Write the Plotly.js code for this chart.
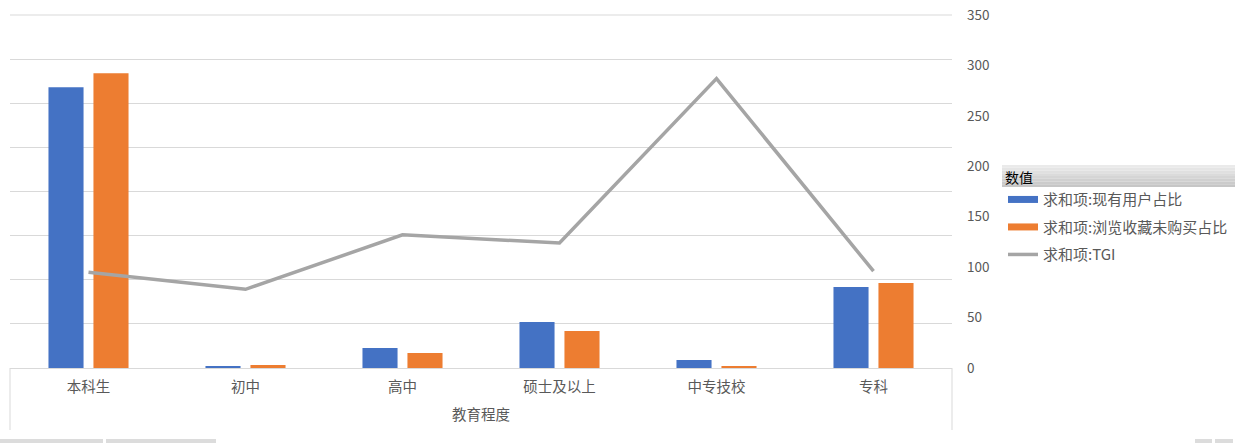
<!DOCTYPE html>
<html>
<head>
<meta charset="utf-8">
<script src="https://cdn.plot.ly/plotly-3.0.1.min.js"></script>
<style>
  html, body { margin: 0; padding: 0; background: #fff; }
  #chart { width: 1243px; height: 443px; }
</style>
</head>
<body>
<div id="chart"></div>
<script>
// Data
const categories = ['本科生', '初中', '高中', '硕士及以上', '中专技校', '专科'];
const currentUsers = [0.318, 0.0023, 0.0227, 0.052, 0.0091, 0.0918];
const browseNoBuy = [0.334, 0.0034, 0.017, 0.042, 0.0023, 0.0963];
const tgi = [95, 78, 132, 124, 287, 96];
const seriesNames = ['求和项:现有用户占比', '求和项:浏览收藏未购买占比', '求和项:TGI'];
const colors = ['#4472c4', '#ed7d31', '#a5a5a5'];

const FONT = '"Noto Sans CJK SC", "Microsoft YaHei", sans-serif';
const TEXT = '#595959';
const GRID = '#d9d9d9';

// plot area in pixels: x 10..952, y 15..368
const px = x => (x - 10) / 942;
const py = y => (368 - y) / 353;

const traces = [
  {
    type: 'bar', x: categories, y: currentUsers, name: seriesNames[0],
    marker: { color: colors[0] }, showlegend: false, hoverinfo: 'x+y+name'
  },
  {
    type: 'bar', x: categories, y: browseNoBuy, name: seriesNames[1],
    marker: { color: colors[1] }, showlegend: false, hoverinfo: 'x+y+name'
  },
  {
    type: 'scatter', mode: 'lines', x: categories, y: tgi, name: seriesNames[2],
    yaxis: 'y2', line: { color: colors[2], width: 3.5 }, showlegend: false
  }
];

// legend entries drawn as wide swatches, like the reference
seriesNames.forEach((name, i) => {
  traces.push({
    type: 'scatter', mode: 'lines', x: [null], y: [null], name,
    legendgroup: 'g' + i, xaxis: 'x', yaxis: 'y',
    line: { color: colors[i], width: i < 2 ? 7 : 3.5 },
    hoverinfo: 'skip'
  });
});

// legend header band with a soft vertical gradient
const headerShapes = [];
const hTop = 165, hBot = 187, steps = 8;
for (let i = 0; i < steps; i++) {
  const g = Math.round(234 - (234 - 198) * i / (steps - 1));
  const c = `rgb(${g},${g},${g})`;
  headerShapes.push({
    type: 'rect', xref: 'paper', yref: 'paper', layer: 'below',
    x0: px(1002), x1: px(1235),
    y0: py(hTop + (hBot - hTop) * (i + 1) / steps),
    y1: py(hTop + (hBot - hTop) * i / steps),
    fillcolor: c, line: { width: 0 }
  });
}

// top gridline (plotly drops the one sitting on the plot edge)
const topGrid = {
  type: 'line', xref: 'paper', yref: 'paper', layer: 'below',
  x0: 0, x1: 1, y0: 1, y1: 1,
  line: { color: GRID, width: 1 }
};

const frameShapes = [10, 952].map(x => ({
  type: 'line', xref: 'paper', yref: 'paper',
  x0: px(x), x1: px(x), y0: 0, y1: py(430),
  line: { color: GRID, width: 1 }
}));

const scrollShapes = [[0, 103], [106, 216], [1195, 1212], [1215, 1233]].map(([a, b]) => ({
  type: 'rect', xref: 'paper', yref: 'paper',
  x0: px(a), x1: px(b), y0: py(443), y1: py(439),
  fillcolor: '#dcdcdc', line: { width: 0 }
}));

const layout = {
  width: 1243,
  height: 443,
  margin: { l: 10, r: 291, t: 15, b: 75 },
  paper_bgcolor: '#fff',
  plot_bgcolor: '#fff',
  font: { family: FONT, size: 13, color: TEXT },
  barmode: 'group',
  bargap: 0.427,
  bargroupgap: 0.22,
  showlegend: true,
  legend: {
    x: px(1003), y: py(165), xanchor: 'left', yanchor: 'top',
    bgcolor: 'rgba(0,0,0,0)',
    font: { family: FONT, size: 15, color: TEXT },
    title: { text: '数值', font: { family: FONT, size: 14, color: '#000' } },
    traceorder: 'grouped',
    tracegroupgap: 5,
    itemwidth: 30
  },
  xaxis: {
    type: 'category',
    showgrid: false,
    showline: true,
    linecolor: GRID,
    linewidth: 1,
    ticks: '',
    tickfont: { family: FONT, size: 14.5, color: TEXT },
    ticklabelstandoff: 6,
    title: { text: '教育程度', font: { family: FONT, size: 14.5, color: TEXT }, standoff: 14 }
  },
  yaxis: {
    range: [0, 0.4],
    dtick: 0.05,
    showticklabels: false,
    showgrid: true,
    gridcolor: GRID,
    zeroline: false,
    ticks: ''
  },
  yaxis2: {
    overlaying: 'y',
    side: 'right',
    range: [0, 350],
    dtick: 50,
    showgrid: false,
    zeroline: false,
    showline: false,
    ticks: '',
    ticklabelstandoff: 14,
    tickfont: { family: FONT, size: 13.5, color: TEXT }
  },
  shapes: [topGrid, ...headerShapes, ...frameShapes, ...scrollShapes]
};

Plotly.newPlot('chart', traces, layout, { displayModeBar: false, staticPlot: true });
</script>
</body>
</html>
